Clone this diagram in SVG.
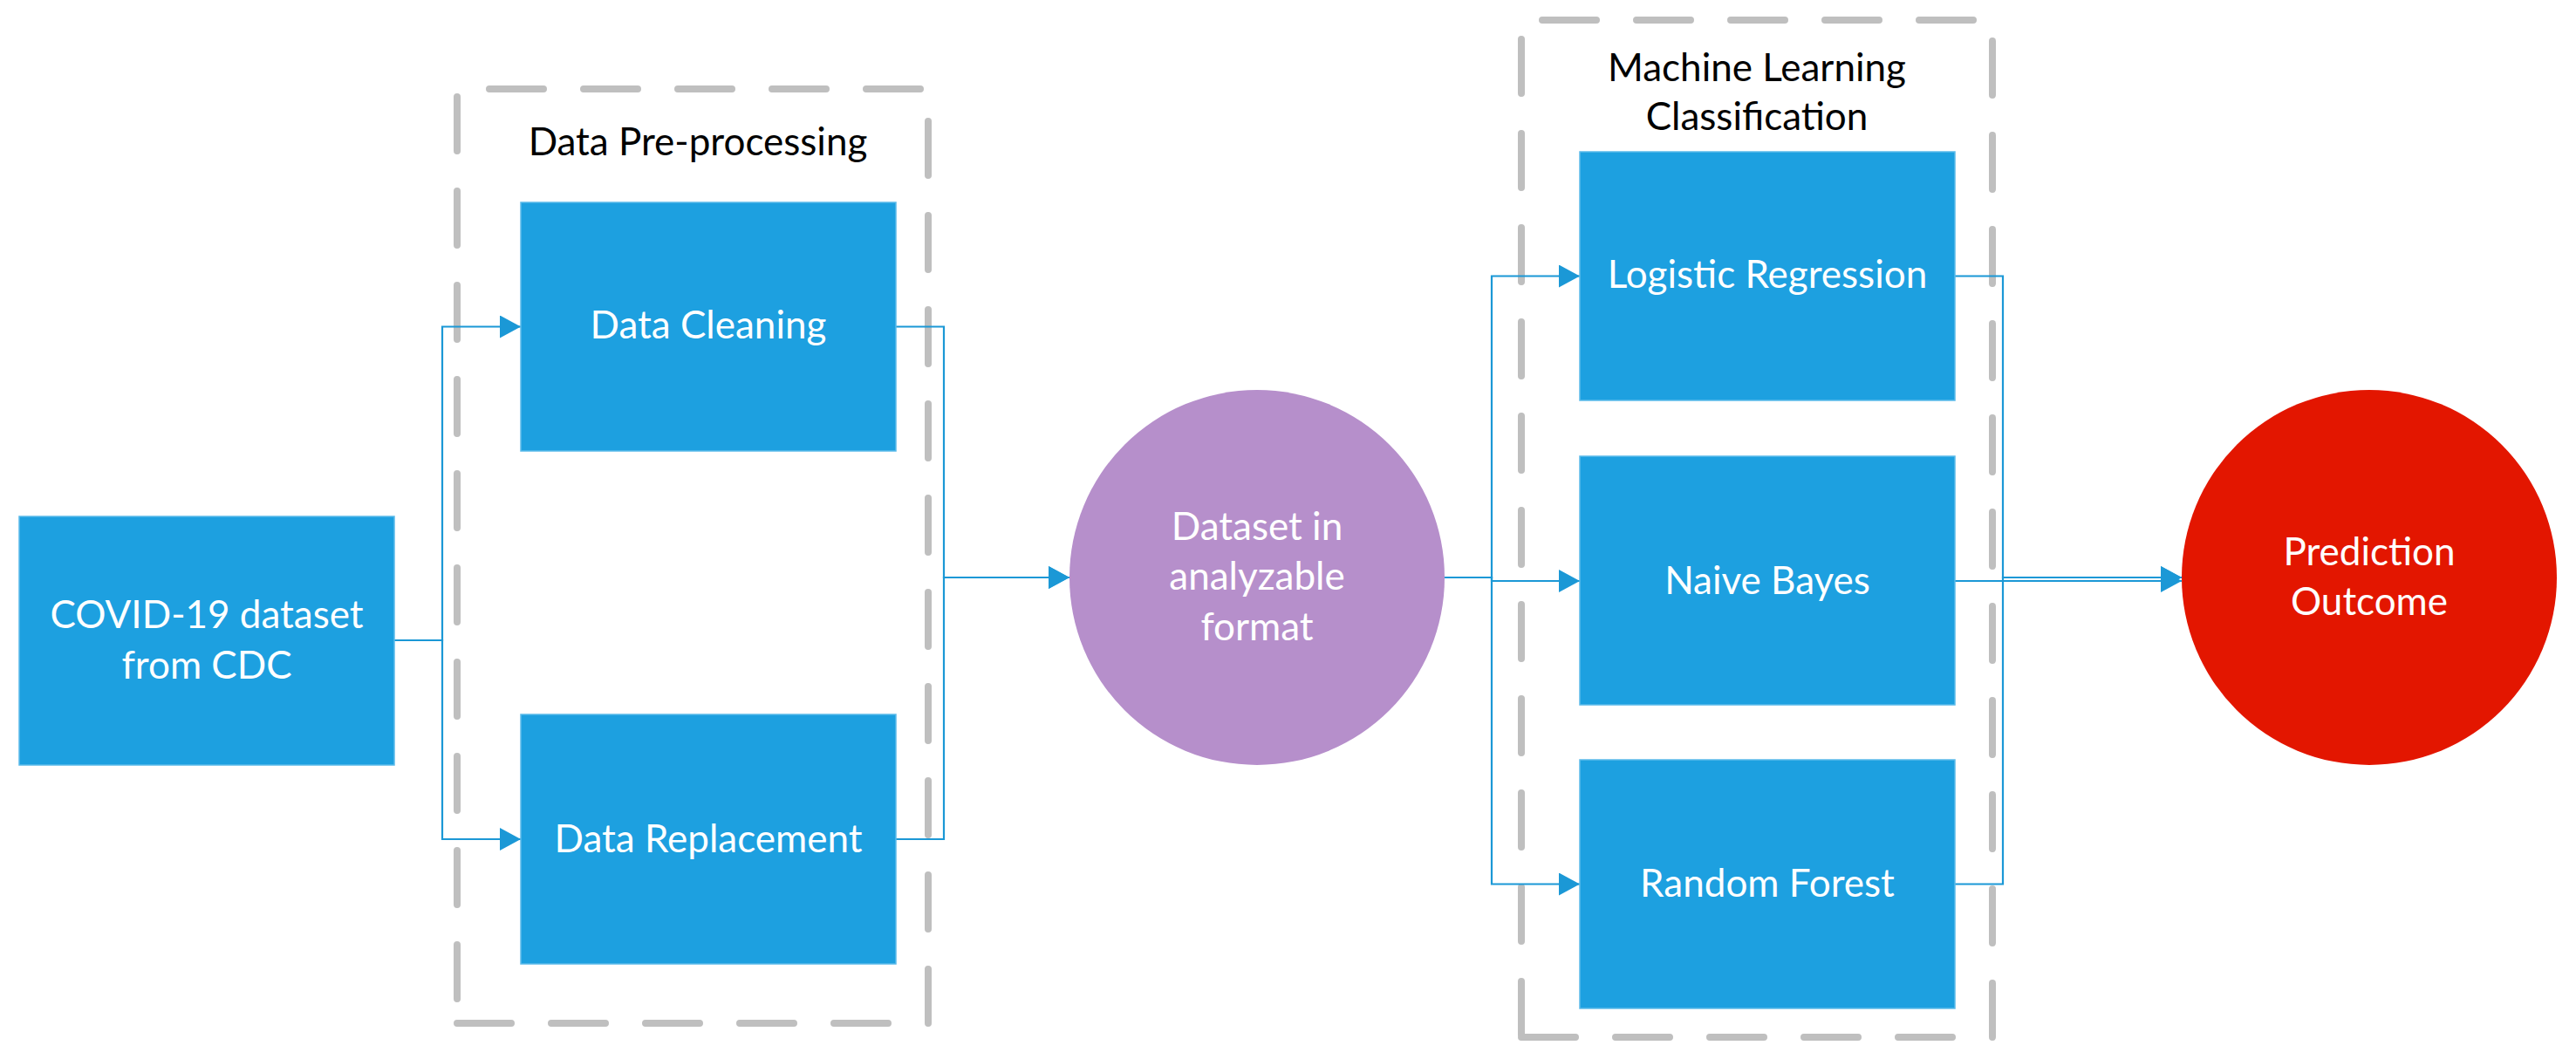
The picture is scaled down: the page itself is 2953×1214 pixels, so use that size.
<svg xmlns="http://www.w3.org/2000/svg" width="2953" height="1214" viewBox="0 0 2953 1214">
<style>
.bg{fill:#ffffff}
.box{fill:#1DA0E0;stroke:#5BBBEA;stroke-width:1.5}
.grp{fill:none;stroke:#BFBFBF;stroke-width:8;stroke-linecap:round;stroke-dasharray:62 46}
.con{fill:none;stroke:#1B98D6;stroke-width:2.2}
.wt{fill:#ffffff;font-family:Lato,"Open Sans","Liberation Sans",sans-serif;font-size:44px;text-anchor:middle}
.bt{fill:#000000;font-family:Lato,"Open Sans","Liberation Sans",sans-serif;font-size:44px;text-anchor:middle}
</style>
<defs>
<marker id="arr" markerUnits="userSpaceOnUse" markerWidth="26" markerHeight="28" refX="24" refY="13" orient="auto">
<path d="M0,0 L24,13 L0,26 Z" fill="#1B98D6"/>
</marker>
</defs>
<rect class="bg" x="0" y="0" width="2953" height="1214"/>

<g id="group-preprocessing">
<path class="grp" d="M524 1173 H1064 V102 H524 Z"/>
<text class="bt" x="800" y="178">Data Pre-processing</text>
</g>
<g id="group-ml">
<path class="grp" d="M1744 1189 H2284 V23 H1744 Z"/>
<text class="bt" x="2014" y="93">Machine Learning</text>
<text class="bt" x="2014" y="149">Classification</text>
</g>

<g id="connectors">
<path class="con" d="M452 734 H507 V374.5 H597" marker-end="url(#arr)"/>
<path class="con" d="M452 734 H507 V962 H597" marker-end="url(#arr)"/>
<path class="con" d="M1027 374.5 H1082 V662 H1226" marker-end="url(#arr)"/>
<path class="con" d="M1027 962 H1082 V662 H1226" marker-end="url(#arr)"/>
<path class="con" d="M1656 662 H1710 V316.5 H1811" marker-end="url(#arr)"/>
<path class="con" d="M1656 662 H1710 V666 H1811" marker-end="url(#arr)"/>
<path class="con" d="M1656 662 H1710 V1013.5 H1811" marker-end="url(#arr)"/>
<path class="con" d="M2241 316.5 H2296 V662 H2501" marker-end="url(#arr)"/>
<path class="con" d="M2241 666 H2501" marker-end="url(#arr)"/>
<path class="con" d="M2241 1013.5 H2296 V662 H2501" marker-end="url(#arr)"/>
</g>

<g id="node-covid">
<rect class="box" x="22" y="592" width="430" height="285"/>
<text class="wt" x="237" y="720">COVID-19 dataset</text>
<text class="wt" x="237" y="778">from CDC</text>
</g>
<g id="node-cleaning">
<rect class="box" x="597" y="232" width="430" height="285"/>
<text class="wt" x="812" y="388">Data Cleaning</text>
</g>
<g id="node-replacement">
<rect class="box" x="597" y="819" width="430" height="286"/>
<text class="wt" x="812" y="977">Data Replacement</text>
</g>
<g id="node-dataset">
<circle cx="1441" cy="662" r="215" fill="#B68FCB"/>
<text class="wt" x="1441" y="619">Dataset in</text>
<text class="wt" x="1441" y="676">analyzable</text>
<text class="wt" x="1441" y="734">format</text>
</g>
<g id="node-lr">
<rect class="box" x="1811" y="174" width="430" height="285"/>
<text class="wt" x="2026" y="330">Logistic Regression</text>
</g>
<g id="node-nb">
<rect class="box" x="1811" y="523" width="430" height="285"/>
<text class="wt" x="2026" y="681">Naive Bayes</text>
</g>
<g id="node-rf">
<rect class="box" x="1811" y="871" width="430" height="285"/>
<text class="wt" x="2026" y="1028">Random Forest</text>
</g>
<g id="node-outcome">
<circle cx="2716" cy="662" r="215" fill="#E31600"/>
<text class="wt" x="2716" y="648">Prediction</text>
<text class="wt" x="2716" y="705">Outcome</text>
</g>
</svg>
